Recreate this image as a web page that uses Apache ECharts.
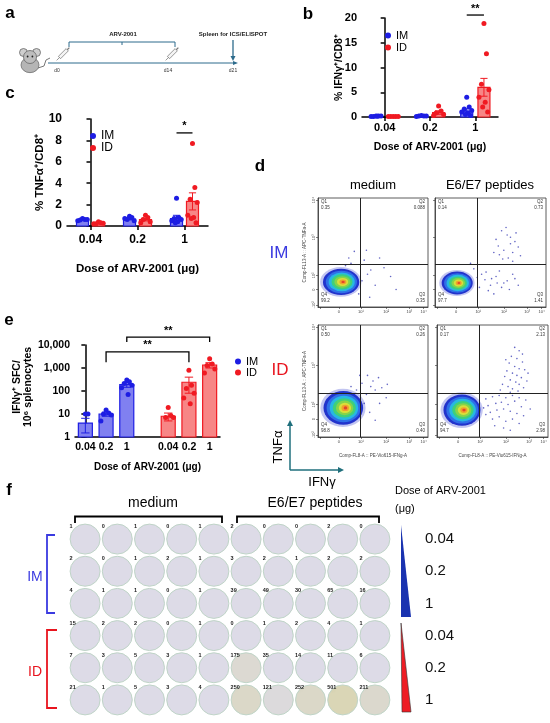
<!doctype html>
<html lang="en">
<head>
<meta charset="utf-8">
<title>ARV-2001 immunogenicity</title>
<script src="https://cdn.jsdelivr.net/npm/echarts@6/dist/echarts.min.js"></script>
<style>
  html, body { margin: 0; padding: 0; background: #fff; }
  #main { width: 550px; height: 723px; }
</style>
</head>
<body>
<div id="main"></div>
<script>
// ---------------- data ----------------
var doses = ['0.04', '0.2', '1'];

// b: % IFNγ+ of CD8+
var bImMean = [0.15, 0.2, 1.2];
var bImSem = [0.03, 0.03, 0.45];
var bIdMean = [0.1, 0.9, 6.0];
var bIdSem = [0.02, 0.35, 1.8];
var bImPts = [[0.2, 0.2, 0.1, 0.2, 0.1, 0.15], [0.3, 0.2, 0.2, 0.2, 0.1], [4.0, 2.0, 1.6, 1.3, 1.0, 0.8, 0.5, 0.3]];
var bIdPts = [[0.1, 0.1, 0.1, 0.1, 0.1], [2.2, 1.2, 0.8, 0.5, 0.3], [18.9, 12.8, 6.6, 5.5, 4.0, 3.0, 2.0, 1.0]];
var bSig = [[2, 2, 20.6, 20.6, '**']];

// c: % TNFα+ of CD8+
var cImMean = [0.6, 0.65, 0.7];
var cImSem = [0.05, 0.08, 0.3];
var cIdMean = [0.25, 0.6, 2.3];
var cIdSem = [0.04, 0.12, 0.8];
var cImPts = [[0.7, 0.6, 0.55, 0.6, 0.5], [0.9, 0.8, 0.6, 0.5, 0.7], [2.6, 0.8, 0.7, 0.6, 0.5, 0.4, 0.3]];
var cIdPts = [[0.4, 0.3, 0.2, 0.25, 0.2], [1.0, 0.8, 0.6, 0.4, 0.3], [7.7, 3.6, 2.5, 2.2, 1.0, 0.8, 0.7, 0.3]];
var cSig = [[2, 2, 8.7, 8.7, '*']];

// e: IFNγ+ SFC per 10^6 splenocytes (log)
var eLabels = ['0.04', '0.2', '1', '', '0.04', '0.2', '1'];
var eImMean = [4, 10, 190];
var eImSem = [2.5, 2, 45];
var eIdMean = [8, 240, 1350];
var eIdSem = [3, 160, 350];
var eImPts = [[10, 10], [15, 11, 10, 9, 5], [300, 250, 210, 180, 140, 70]];
var eIdPts = [[19, 8.5, 7, 7], [800, 180, 130, 80, 50, 28], [2500, 1500, 1300, 900, 600]];
var eSig = [[1, 1, 5000, 1800, '**'], [2, 2, 22000, 13500, '**']];

// d: flow plots (IM medium, IM E6/E7, ID medium, ID E6/E7), axis units 0-100
var flowBlobs = [[21, 23, 16.5, 12], [20, 22, 14, 10.5], [23, 26, 18, 15], [22.5, 24, 16.7, 14]];
var flowGate = [38, 39];
var q1 = ['0.35', '0.14', '0.50', '0.17'];
var q2 = ['0.088', '0.73', '0.26', '2.13'];
var q3 = ['0.35', '1.41', '0.40', '2.98'];
var q4 = ['99.2', '97.7', '98.8', '94.7'];
var flowEvents = [
  [[28, 45], [56, 45], [48, 34], [66, 28], [42, 43], [33, 51], [45, 30], [52, 20], [60, 36], [40, 24], [37, 12], [47, 9], [30, 40], [25, 38], [71, 16], [44, 52]],
  [[55, 62], [60, 70], [65, 66], [68, 58], [72, 60], [62, 52], [70, 50], [58, 48], [75, 55], [66, 45], [73, 68], [57, 56], [64, 73], [70, 42], [61, 44], [77, 47], [53, 50], [68, 64],
   [45, 25], [50, 20], [55, 28], [60, 18], [48, 15], [65, 24], [70, 30], [58, 33], [42, 30], [53, 12], [62, 22], [75, 20], [67, 16], [46, 32], [56, 22], [72, 26], [51, 26], [40, 18], [35, 35], [32, 40], [38, 27]],
  [[45, 55], [50, 50], [55, 53], [48, 45], [58, 44], [52, 42], [40, 48], [44, 38], [56, 30], [62, 35], [42, 30], [47, 22], [52, 15], [35, 42], [30, 45], [38, 55], [63, 47]],
  [[70, 80], [74, 77], [67, 72], [72, 70], [77, 67], [65, 66], [70, 63], [74, 61], [79, 60], [63, 59], [68, 57], [72, 55], [76, 53], [61, 54], [66, 51], [71, 49], [74, 47], [81, 50], [59, 47], [64, 45], [68, 43], [73, 41], [78, 44], [57, 42], [66, 40], [82, 57], [62, 69], [77, 74],
   [44, 34], [50, 36], [56, 37], [62, 35], [68, 37], [74, 35], [80, 33], [46, 28], [53, 30], [58, 31], [64, 29], [70, 32], [76, 27], [48, 22], [54, 24], [60, 25], [66, 23], [72, 21], [78, 19], [50, 16], [56, 18], [62, 14], [68, 16], [74, 12], [52, 10], [60, 8], [44, 20], [42, 26], [84, 25], [66, 6]]
];

// f: ELISPOT well counts, rows = IM 0.04, 0.2, 1, ID 0.04, 0.2, 1
var wellRowsMedium = [[1, 0, 1, 0, 1], [2, 0, 1, 2, 1], [4, 1, 1, 0, 1], [15, 2, 2, 0, 1], [7, 3, 5, 3, 1], [21, 1, 5, 3, 4]];
var wellRowsPeptide = [[2, 0, 0, 2, 0], [3, 2, 1, 2, 2], [39, 49, 30, 65, 16], [0, 1, 2, 4, 1], [175, 35, 14, 11, 6], [250, 121, 252, 501, 211]];
var wellDoseLabels = ['0.04', '0.2', '1', '0.04', '0.2', '1'];

// ---------------- style ----------------
var FONT = '"Liberation Sans", Arial, sans-serif';
var IM_C = '#1d1de3', ID_C = '#f01a22';
var IM_FILL = '#8080f0', ID_FILL = '#f78686';
var TEAL = '#1f6f7c', LINE_A = '#2d6b8c';

var chart = echarts.init(document.getElementById('main'));

function barSeries(name, xi, yi, xs, means, sems, fill, stroke, w, base) {
  return {
    type: 'custom', name: name, xAxisIndex: xi, yAxisIndex: yi, clip: false, z: 2, silent: true,
    data: xs.map(function (x, i) { return [x, means[i], sems[i]]; }),
    renderItem: function (params, api) {
      var x = api.value(0), m = api.value(1), s = api.value(2);
      var p0 = api.coord([x, base]), p1 = api.coord([x, m]);
      var pu = api.coord([x, m + s]), pd = api.coord([x, Math.max(m - s, base)]);
      var cw = w * 0.3;
      return {
        type: 'group', children: [
          { type: 'rect', shape: { x: p0[0] - w / 2, y: p1[1], width: w, height: p0[1] - p1[1] }, style: { fill: fill, stroke: stroke, lineWidth: 1.2 } },
          { type: 'line', shape: { x1: p1[0], y1: pu[1], x2: p1[0], y2: pd[1] }, style: { stroke: stroke, lineWidth: 1 } },
          { type: 'line', shape: { x1: p1[0] - cw, y1: pu[1], x2: p1[0] + cw, y2: pu[1] }, style: { stroke: stroke, lineWidth: 1 } },
          { type: 'line', shape: { x1: p1[0] - cw, y1: pd[1], x2: p1[0] + cw, y2: pd[1] }, style: { stroke: stroke, lineWidth: 1 } }
        ]
      };
    }
  };
}

// points spread across the bar, extremes kept near the centre
var SPREAD = [0, 0.5, -0.5, 1, -1, 0.25, -0.25, 0.75, -0.75];
function dotSeries(name, xi, yi, xs, groups, color, half) {
  var data = [];
  groups.forEach(function (g, i) {
    g.forEach(function (v, k) { data.push([xs[i] + SPREAD[k % SPREAD.length] * half, v]); });
  });
  return { type: 'scatter', name: name, xAxisIndex: xi, yAxisIndex: yi, data: data, symbolSize: 5, itemStyle: { color: color, opacity: 1 }, z: 4, silent: true };
}

function sigSeries(xi, yi, sig, xa, xb) {
  return {
    type: 'custom', xAxisIndex: xi, yAxisIndex: yi, clip: false, silent: true, z: 5,
    data: sig.map(function (s) { return [xa(s[0]), xb(s[1]), s[2], s[3]]; }),
    renderItem: function (params, api) {
      var a = api.coord([api.value(0), api.value(2)]), b = api.coord([api.value(1), api.value(2)]);
      var ea = api.coord([api.value(0), api.value(3)]), eb = api.coord([api.value(1), api.value(3)]);
      return {
        type: 'group', children: [
          { type: 'polyline', shape: { points: [ea, a, b, eb] }, style: { stroke: '#000', lineWidth: 1.3, fill: null } },
          { type: 'text', x: (a[0] + b[0]) / 2, y: a[1] - 1, style: { text: sig[params.dataIndex][4], align: 'center', verticalAlign: 'bottom', fontSize: 11, fontWeight: 'bold', fill: '#000', fontFamily: FONT } }
        ]
      };
    }
  };
}

function catAxis(grid, data, fs, margin, nameGap, ticks) {
  return {
    type: 'category', gridIndex: grid, data: data,
    axisLine: { lineStyle: { color: '#000', width: 1.5 } },
    axisTick: { show: ticks, alignWithLabel: true, length: 4, lineStyle: { color: '#000', width: 1.5 } },
    axisLabel: { fontWeight: 'bold', fontSize: fs, color: '#000', margin: margin, interval: 0 },
    name: 'Dose of ARV-2001 (μg)', nameLocation: 'middle', nameGap: nameGap, nameMoveOverlap: false,
    nameTextStyle: { fontWeight: 'bold', fontSize: fs - 0.5, color: '#000' }
  };
}
function hiddenX(grid, min, max) {
  return { type: 'value', gridIndex: grid, min: min, max: max, show: false };
}
function valAxis(grid, max, interval, fs, name, nameGap) {
  return {
    type: 'value', gridIndex: grid, min: 0, max: max, interval: interval,
    axisLine: { show: true, lineStyle: { color: '#000', width: 1.5 } },
    axisTick: { show: true, length: 4, lineStyle: { color: '#000', width: 1.5 } },
    splitLine: { show: false },
    axisLabel: { fontWeight: 'bold', fontSize: fs, color: '#000', margin: 5 },
    name: name, nameLocation: 'middle', nameRotate: 90, nameGap: nameGap, nameMoveOverlap: false,
    nameTextStyle: { fontWeight: 'bold', fontSize: fs - 0.5, color: '#000' }
  };
}

// ---------------- layout ----------------
var flowRects = [
  { left: 318, top: 198, width: 110, height: 109 },
  { left: 435, top: 198, width: 111, height: 109 },
  { left: 318, top: 325, width: 110, height: 112 },
  { left: 437, top: 325, width: 111, height: 112 }
];
var grids = [
  { left: 362, top: 18, width: 136, height: 99 },
  { left: 67, top: 119, width: 141, height: 107 },
  { left: 75, top: 345, width: 145, height: 92 }
];
flowRects.forEach(function (r) {
  grids.push({ left: r.left, top: r.top, width: r.width, height: r.height, show: true, borderColor: '#333', borderWidth: 0.8 });
});
grids.push({ left: 69, top: 523, width: 322, height: 193 });

var xAxes = [
  catAxis(0, doses, 11, 5, 25, true), hiddenX(0, -0.5, 2.5),
  catAxis(1, doses, 12, 8, 37, true), hiddenX(1, -0.5, 2.5),
  catAxis(2, eLabels, 10.5, 5, 25, false), hiddenX(2, -0.5, 6.5)
];
var yAxes = [
  valAxis(0, 20, 5, 11, '% IFNγ⁺/CD8⁺', 17),
  valAxis(1, 10, 2, 12, '% TNFα⁺/CD8⁺', 21),
  {
    type: 'log', logBase: 10, gridIndex: 2, min: 1, max: 10000,
    axisLine: { show: true, lineStyle: { color: '#000', width: 1.5 } },
    axisTick: { show: true, length: 4, lineStyle: { color: '#000', width: 1.5 } },
    minorTick: { show: false }, splitLine: { show: false },
    axisLabel: { fontWeight: 'bold', fontSize: 10.5, color: '#000', margin: 5, formatter: function (v) { return Math.round(v).toLocaleString('en-US'); } }
  }
];

var FLOW_X = { 19: '0', 39: '10¹', 62: '10²', 83: '10³', 96: '10⁴' };
var FLOW_Y = { 2: '-10²', 16: '0', 29: '10²', 64: '10³', 98: '10⁴' };
flowRects.forEach(function (r, p) {
  var left = p % 2 === 0, bottom = p >= 2;
  xAxes.push({
    type: 'value', gridIndex: 3 + p, min: 0, max: 100,
    axisLine: { show: true, lineStyle: { color: '#333', width: 0.8 } },
    axisTick: { show: true, length: 2, customValues: [2, 19, 39, 62, 83, 96], lineStyle: { color: '#333', width: 0.6 } },
    axisLabel: { show: true, customValues: [19, 39, 62, 83, 96], fontSize: 4, color: '#444', margin: 3, formatter: function (v) { return FLOW_X[v]; } },
    splitLine: { show: false },
    name: bottom ? 'Comp-FL8-A :: PE-Vio615-IFNg-A' : '', nameLocation: 'middle', nameGap: 16,
    nameTextStyle: { fontSize: 4.5, color: '#444' }
  });
  yAxes.push({
    type: 'value', gridIndex: 3 + p, min: 0, max: 100,
    axisLine: { show: true, lineStyle: { color: '#333', width: 0.8 } },
    axisTick: { show: true, length: 2, customValues: [2, 16, 29, 64, 98], lineStyle: { color: '#333', width: 0.6 } },
    axisLabel: { show: left, customValues: [2, 16, 29, 64, 98], fontSize: 4, color: '#444', margin: 2, rotate: 90, formatter: function (v) { return FLOW_Y[v]; } },
    splitLine: { show: false },
    name: left ? 'Comp-FL13-A :: APC-TNFa-A' : '', nameLocation: 'middle', nameRotate: 90, nameGap: 11,
    nameTextStyle: { fontSize: 4.5, color: '#444' }
  });
});

xAxes.push({ type: 'value', gridIndex: 7, min: -0.5, max: 9.5, show: false });
yAxes.push({
  type: 'category', gridIndex: 7, data: wellDoseLabels, inverse: true, position: 'right',
  axisLine: { show: false }, axisTick: { show: false }, splitLine: { show: false },
  axisLabel: { margin: 34, fontSize: 15, color: '#111', align: 'left' }
});

// ---------------- series ----------------
function bx(o) { return function (i) { return i + o; }; }
var series = [];
// b
series.push(barSeries('IM bar', 1, 0, doses.map(function (d, i) { return i - 0.19; }), bImMean, bImSem, IM_FILL, IM_C, 12, 0));
series.push(barSeries('ID bar', 1, 0, doses.map(function (d, i) { return i + 0.19; }), bIdMean, bIdSem, ID_FILL, ID_C, 12, 0));
series.push(dotSeries('IM', 1, 0, doses.map(function (d, i) { return i - 0.19; }), bImPts, IM_C, 0.11));
series.push(dotSeries('ID', 1, 0, doses.map(function (d, i) { return i + 0.19; }), bIdPts, ID_C, 0.11));
series.push(sigSeries(1, 0, bSig, bx(-0.19), bx(0.19)));
// c
series.push(barSeries('IM bar', 3, 1, doses.map(function (d, i) { return i - 0.17; }), cImMean, cImSem, IM_FILL, IM_C, 12, 0));
series.push(barSeries('ID bar', 3, 1, doses.map(function (d, i) { return i + 0.17; }), cIdMean, cIdSem, ID_FILL, ID_C, 12, 0));
series.push(dotSeries('IM', 3, 1, doses.map(function (d, i) { return i - 0.17; }), cImPts, IM_C, 0.1));
series.push(dotSeries('ID', 3, 1, doses.map(function (d, i) { return i + 0.17; }), cIdPts, ID_C, 0.1));
series.push(sigSeries(3, 1, cSig, bx(-0.17), bx(0.17)));
// e
series.push(barSeries('IM bar', 5, 2, doses.map(function (d, i) { return i; }), eImMean, eImSem, IM_FILL, IM_C, 14, 1));
series.push(barSeries('ID bar', 5, 2, doses.map(function (d, i) { return i + 4; }), eIdMean, eIdSem, ID_FILL, ID_C, 14, 1));
series.push(dotSeries('IM', 5, 2, doses.map(function (d, i) { return i; }), eImPts, IM_C, 0.25));
series.push(dotSeries('ID', 5, 2, doses.map(function (d, i) { return i + 4; }), eIdPts, ID_C, 0.25));
series.push(sigSeries(5, 2, eSig, bx(0), bx(4)));

// d: pseudocolour density, drawn as nested ellipses around the population centre
var LAYERS = [[1.14, 'rgba(80,90,215,0.35)'], [1.0, '#2233cc'], [0.86, '#2f6fe8'], [0.72, '#27b8e2'], [0.58, '#3fcf7a'], [0.44, '#86d44a'],
  [0.31, '#d9df3a'], [0.19, '#f0a02c'], [0.09, '#e3452a']];
flowRects.forEach(function (r, p) {
  series.push({
    type: 'custom', xAxisIndex: 6 + p, yAxisIndex: 3 + p, z: 2, silent: true,
    data: [flowBlobs[p]],
    renderItem: function (params, api) {
      var c = api.coord([api.value(0), api.value(1)]);
      var sz = api.size([api.value(2), api.value(3)]);
      return {
        type: 'group',
        children: LAYERS.map(function (l) {
          // inner contours drift a little to the right, as the hot core sits off-centre
          return { type: 'circle', x: c[0] + sz[0] * 0.12 * (1 - l[0]), y: c[1], scaleY: sz[1] / sz[0], shape: { cx: 0, cy: 0, r: sz[0] * l[0] }, style: { fill: l[1] } };
        })
      };
    }
  });
  series.push({
    type: 'scatter', xAxisIndex: 6 + p, yAxisIndex: 3 + p, z: 3, silent: true,
    data: flowEvents[p], symbolSize: 1.6, itemStyle: { color: '#3b3fb5', opacity: 0.8 },
    markLine: {
      silent: true, symbol: 'none', label: { show: false },
      lineStyle: { color: '#222', width: 1, type: 'solid' },
      data: [{ xAxis: flowGate[0] }, { yAxis: flowGate[1] }]
    }
  });
});

// f: wells
function wellColor(n) {
  var t = Math.max(0, Math.min(1, (Math.log10(n + 1) - 1.9) / 0.8));
  var a = [221, 219, 231], b = [218, 214, 182];
  return 'rgb(' + a.map(function (v, i) { return Math.round(v + (b[i] - v) * t); }).join(',') + ')';
}
// small fixed dot tile used as the spot texture on crowded wells
function speckle(alpha) {
  var cv = document.createElement('canvas');
  cv.width = 8; cv.height = 8;
  var g = cv.getContext('2d');
  g.fillStyle = 'rgba(105,125,80,' + alpha + ')';
  [[1, 1], [5, 2], [2, 5], [6, 6]].forEach(function (q) { g.fillRect(q[0], q[1], 1, 1); });
  return cv;
}
var wellData = [];
wellRowsMedium.forEach(function (row, r) {
  row.forEach(function (n, c) { wellData.push([c, r, n]); });
});
wellRowsPeptide.forEach(function (row, r) {
  row.forEach(function (n, c) { wellData.push([c + 5, r, n]); });
});
series.push({
  type: 'scatter', xAxisIndex: 10, yAxisIndex: 7, silent: true, symbolSize: 30, z: 2,
  data: wellData.map(function (d) { return { value: d, itemStyle: { color: wellColor(d[2]) } }; }),
  itemStyle: { borderColor: '#bfd4c7', borderWidth: 1, opacity: 1 },
  label: {
    show: true, position: [0, 0], align: 'left', verticalAlign: 'top',
    formatter: function (p) { return p.value[2]; },
    fontSize: 5.5, fontWeight: 'bold', color: '#222'
  }
});
series.push({
  type: 'scatter', xAxisIndex: 10, yAxisIndex: 7, silent: true, symbolSize: 28, z: 3,
  data: wellData.filter(function (d) { return d[2] >= 100; }).map(function (d) {
    return { value: d, itemStyle: { color: { image: speckle(Math.min(0.5, d[2] / 900)), repeat: 'repeat' } } };
  }),
  itemStyle: { opacity: 1 }
});

// ---------------- annotations ----------------
function txt(x, y, s, o) {
  o = o || {};
  return {
    type: 'text', x: x, y: y, rotation: o.rot || 0, z: 10, silent: true,
    style: { text: s, fontSize: o.fs || 12, fontWeight: o.fw || 'normal', fill: o.color || '#000', align: o.align || 'center', verticalAlign: 'middle', fontFamily: FONT, lineHeight: o.lh }
  };
}
function pline(pts, color, w) {
  return { type: 'polyline', z: 10, silent: true, shape: { points: pts }, style: { stroke: color, lineWidth: w, fill: null } };
}
function poly(pts, fill, stroke) {
  return { type: 'polygon', z: 10, silent: true, shape: { points: pts }, style: { fill: fill, stroke: stroke || null, lineWidth: 0.6 } };
}
function syringe(x, y) {
  return {
    type: 'group', x: x, y: y, rotation: Math.PI / 4, silent: true, children: [
      { type: 'rect', shape: { x: -5, y: -1.6, width: 11, height: 3.2 }, style: { fill: '#f4f4f4', stroke: '#777', lineWidth: 0.7 } },
      { type: 'line', shape: { x1: -9, y1: 0, x2: -5, y2: 0 }, style: { stroke: '#777', lineWidth: 0.7 } },
      { type: 'line', shape: { x1: 6, y1: 0, x2: 9, y2: 0 }, style: { stroke: '#777', lineWidth: 1.2 } }
    ]
  };
}

var graphics = [
  // panel letters
  txt(10, 13, 'a', { fs: 17, fw: 'bold' }), txt(308, 14, 'b', { fs: 17, fw: 'bold' }),
  txt(10, 93, 'c', { fs: 17, fw: 'bold' }), txt(260, 166, 'd', { fs: 17, fw: 'bold' }),
  txt(9, 320, 'e', { fs: 17, fw: 'bold' }), txt(9, 490, 'f', { fs: 17, fw: 'bold' }),

  // e: y-axis title
  txt(22.5, 387, 'IFNγ⁺ SFC/\n10⁶ splenocytes', { fs: 10.5, fw: 'bold', rot: Math.PI / 2, lh: 11.5 }),

  // a: schedule
  { type: 'polyline', silent: true, shape: { points: [[38, 68], [44, 66], [46, 60], [50, 58]] }, style: { stroke: '#777', lineWidth: 1, fill: null } },
  { type: 'circle', silent: true, x: 30, y: 65, scaleY: 0.85, shape: { cx: 0, cy: 0, r: 9 }, style: { fill: '#b5b5b5', stroke: '#666', lineWidth: 0.8 } },
  { type: 'circle', silent: true, shape: { cx: 23.5, cy: 52.5, r: 4 }, style: { fill: '#cfcfcf', stroke: '#666', lineWidth: 0.8 } },
  { type: 'circle', silent: true, shape: { cx: 36.5, cy: 52.5, r: 4 }, style: { fill: '#cfcfcf', stroke: '#666', lineWidth: 0.8 } },
  { type: 'circle', silent: true, shape: { cx: 30, cy: 57, r: 6.5 }, style: { fill: '#bdbdbd', stroke: '#666', lineWidth: 0.8 } },
  { type: 'circle', silent: true, shape: { cx: 27.6, cy: 56.5, r: 0.9 }, style: { fill: '#222' } },
  { type: 'circle', silent: true, shape: { cx: 32.4, cy: 56.5, r: 0.9 }, style: { fill: '#222' } },
  pline([[48, 63], [234, 63]], LINE_A, 1),
  poly([[233, 61], [238, 63], [233, 65]], LINE_A),
  pline([[69, 47], [69, 42], [175, 42], [175, 47]], LINE_A, 1),
  pline([[122, 42], [122, 45]], LINE_A, 1),
  txt(123, 34, 'ARV-2001', { fs: 6, fw: 'bold', color: '#222' }),
  txt(233, 34, 'Spleen for ICS/ELISPOT', { fs: 6, fw: 'bold', color: '#222' }),
  pline([[233, 40], [233, 57]], LINE_A, 1.3),
  poly([[230.5, 56], [235.5, 56], [233, 61]], LINE_A),
  syringe(63, 54), syringe(172, 54),
  txt(57, 71, 'd0', { fs: 5, color: '#333' }), txt(168, 71, 'd14', { fs: 5, color: '#333' }), txt(233, 71, 'd21', { fs: 5, color: '#333' }),

  // d: flow headers and axes key
  txt(373, 185, 'medium', { fs: 13 }), txt(490, 185, 'E6/E7 peptides', { fs: 13 }),
  txt(279, 253, 'IM', { fs: 17, color: '#3a3ae0' }), txt(280, 370, 'ID', { fs: 17, color: '#e8141e' }),
  pline([[290, 470], [290, 425]], TEAL, 1.5), poly([[287, 426], [293, 426], [290, 420]], TEAL),
  pline([[290, 470], [339, 470]], TEAL, 1.5), poly([[338, 467], [338, 473], [344, 470]], TEAL),
  txt(278, 447, 'TNFα', { fs: 13, rot: Math.PI / 2 }), txt(322, 482, 'IFNγ', { fs: 13 }),

  // f: plate headers, groups and dose wedge
  txt(153, 503, 'medium', { fs: 14 }), txt(315, 503, 'E6/E7 peptides', { fs: 14 }),
  pline([[75, 523], [75, 516.5], [222, 516.5], [222, 523]], '#000', 1.8),
  pline([[237, 523], [237, 516.5], [379, 516.5], [379, 523]], '#000', 1.8),
  pline([[55, 535], [47, 535], [47, 613], [55, 613]], '#3a3ae0', 1.8),
  pline([[57, 630], [47, 630], [47, 708], [57, 708]], '#e8141e', 1.8),
  txt(35, 577, 'IM', { fs: 14, color: '#3a3ae0' }), txt(35, 672, 'ID', { fs: 14, color: '#e8141e' }),
  txt(395, 491, 'Dose of ARV-2001', { fs: 11, align: 'left' }), txt(395, 509, '(μg)', { fs: 11, align: 'left' }),
  poly([[401, 525], [401, 617], [411, 617]], '#1a33b0'),
  poly([[401, 623], [402, 712], [411, 712]], '#ee1c24', '#333')
];

// quadrant statistics on each flow plot
flowRects.forEach(function (r, p) {
  var L = r.left + 3, R = r.left + r.width - 3, T = r.top + 5, B = r.top + r.height - 9;
  var st = function (x, y, s, al) { return { type: 'text', x: x, y: y, z: 10, silent: true, style: { text: s, fontSize: 4.5, fill: '#333', align: al, verticalAlign: 'middle', fontFamily: FONT, lineHeight: 6 } }; };
  graphics.push(st(L, T + 2, 'Q1\n' + q1[p], 'left'), st(R, T + 2, 'Q2\n' + q2[p], 'right'),
    st(L, B, 'Q4\n' + q4[p], 'left'), st(R, B, 'Q3\n' + q3[p], 'right'));
});

chart.setOption({
  animation: false,
  textStyle: { fontFamily: FONT },
  grid: grids,
  xAxis: xAxes,
  yAxis: yAxes,
  legend: [
    { left: 380, top: 25, orient: 'vertical', data: ['IM', 'ID'], icon: 'circle', itemWidth: 6, itemHeight: 6, itemGap: 1, textStyle: { fontSize: 11, color: '#000' }, selectedMode: false },
    { left: 85, top: 125, orient: 'vertical', data: ['IM', 'ID'], icon: 'circle', itemWidth: 6, itemHeight: 6, itemGap: 0, textStyle: { fontSize: 12, color: '#000' }, selectedMode: false },
    { left: 230, top: 351, orient: 'vertical', data: ['IM', 'ID'], icon: 'circle', itemWidth: 6, itemHeight: 6, itemGap: 0, textStyle: { fontSize: 11, color: '#000' }, selectedMode: false }
  ],
  graphic: graphics,
  series: series
});
</script>
</body>
</html>
